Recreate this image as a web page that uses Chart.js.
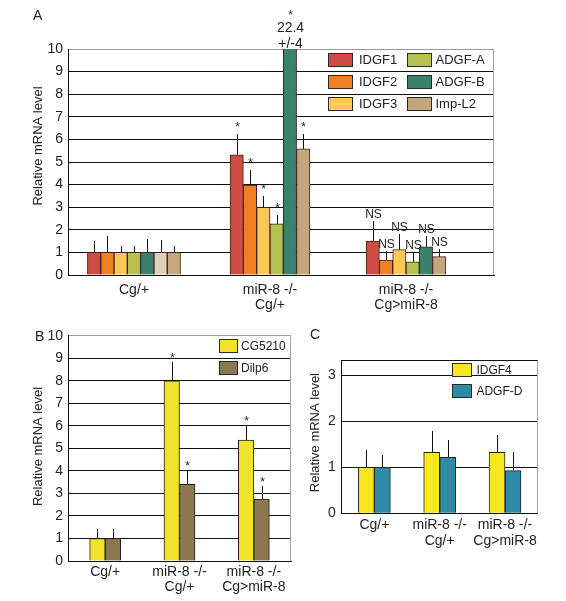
<!DOCTYPE html>
<html><head><meta charset="utf-8">
<script src="https://cdn.jsdelivr.net/npm/chart.js@4/dist/chart.umd.min.js"></script>
<style>
html,body{margin:0;padding:0;background:#fff;width:566px;height:601px;overflow:hidden;font-family:"Liberation Sans",Arial,sans-serif;}
canvas{position:absolute;}
.pl{position:absolute;font-size:14px;color:#222;line-height:14px;}
</style></head><body>
<canvas id="cA" width="566" height="318" style="left:0;top:0"></canvas>
<canvas id="cB" width="295" height="286" style="left:0;top:315px"></canvas>
<canvas id="cC" width="271" height="286" style="left:295px;top:315px"></canvas>
<div class="pl" style="left:33px;top:8px">A</div>
<div class="pl" style="left:35px;top:329px">B</div>
<div class="pl" style="left:310px;top:327px">C</div>
<script>
// ---------- Panel A data ----------
const groupsA = [["Cg/+"], ["miR-8 -/-", "Cg/+"], ["miR-8 -/-", "Cg>miR-8"]];
const idgf1 = [1.0, 5.32, 1.50];  const idgf1Err = [0.49, 0.93, 0.90]; const idgf1Sig = ["", "*", "NS"];
const idgf2 = [1.0, 3.98, 0.66];  const idgf2Err = [0.74, 0.68, 0.39]; const idgf2Sig = ["", "*", "NS"];
const idgf3 = [1.0, 2.99, 1.12];  const idgf3Err = [0.30, 0.49, 0.68]; const idgf3Sig = ["", "*", "NS"];
const adgfA = [1.0, 2.26, 0.58];  const adgfAErr = [0.27, 0.41, 0.45]; const adgfASig = ["", "*", "NS"];
const adgfB = [1.0, 22.4, 1.25];  const adgfBErr = [0.61, 4, 0.48];    const adgfBSig = ["", "*", "NS"];
const extraA = [1.0, null, null]; const extraAErr = [0.53, null, null]; const extraASig = ["", "", ""];
const impL2 = [1.0, 5.58, 0.81];  const impL2Err = [0.27, 0.67, 0.33]; const impL2Sig = ["", "*", "NS"];
const yTicksA = [0, 1, 2, 3, 4, 5, 6, 7, 8, 9, 10];

// ---------- Panel B data ----------
const groupsB = [["Cg/+"], ["miR-8 -/-", "Cg/+"], ["miR-8 -/-", "Cg>miR-8"]];
const cg5210 = [1.0, 8.0, 5.37]; const cg5210Err = [0.41, 0.85, 0.67]; const cg5210Sig = ["", "*", "*"];
const dilp6 = [1.0, 3.40, 2.75]; const dilp6Err = [0.41, 0.64, 0.58]; const dilp6Sig = ["", "*", "*"];
const yTicksB = [0, 1, 2, 3, 4, 5, 6, 7, 8, 9, 10];

// ---------- Panel C data ----------
const groupsC = [["Cg/+"], ["miR-8 -/-", "Cg/+"], ["miR-8 -/-", "Cg>miR-8"]];
const idgf4 = [1.0, 1.33, 1.33]; const idgf4Err = [0.38, 0.46, 0.37];
const adgfD = [1.0, 1.22, 0.93]; const adgfDErr = [0.27, 0.37, 0.41];
const yTicksC = [0, 1, 2, 3];

const FONT = '"Liberation Sans", Arial, sans-serif';
Chart.defaults.font.family = FONT;
Chart.defaults.color = '#222';
Chart.defaults.animation = false;

const errPlugin = {
  id: 'errbars',
  afterDatasetsDraw(chart, args, o) {
    const ctx = chart.ctx, ys = chart.scales.y, top = chart.chartArea.top;
    ctx.save();
    chart.data.datasets.forEach((ds, di) => {
      const meta = chart.getDatasetMeta(di);
      meta.data.forEach((bar, i) => {
        const v = ds.vals[i];
        if (v == null) return;
        const e = ds.err ? ds.err[i] : 0;
        const s = ds.sig ? ds.sig[i] : '';
        const x = Math.round(bar.x) + 0.5;
        ctx.fillStyle = '#222';
        ctx.textAlign = 'center';
        ctx.textBaseline = 'alphabetic';
        if (v <= ys.max) {
          const y0 = ys.getPixelForValue(v), y1 = ys.getPixelForValue(v + e);
          ctx.strokeStyle = '#111'; ctx.lineWidth = 1;
          ctx.beginPath(); ctx.moveTo(x, y0); ctx.lineTo(x, Math.round(y1)); ctx.stroke();
          if (s === '*') { ctx.font = '12px ' + FONT; ctx.fillText('*', x, y1 - o.starGap); }
          else if (s) { ctx.font = '12px ' + FONT; ctx.fillText(s, x, y1 - o.nsGap); }
        } else {
          ctx.font = '12px ' + FONT; ctx.fillText(s, x, top - 30);
          ctx.font = '14px ' + FONT;
          ctx.fillText(String(v), x, top - 17);
          ctx.fillText('+/-' + e, x, top - 1);
        }
      });
    });
    ctx.restore();
  }
};

const framePlugin = {
  id: 'frame',
  beforeDatasetsDraw(chart, args, o) {
    const ctx = chart.ctx, a = chart.chartArea;
    ctx.save(); ctx.lineWidth = 1;
    const r = Math.round(a.right) - 0.5, t = Math.round(a.top) + 0.5;
    ctx.strokeStyle = o.right;
    ctx.beginPath(); ctx.moveTo(r, t); ctx.lineTo(r, a.bottom); ctx.stroke();
    if (o.top) {
      ctx.strokeStyle = o.top;
      ctx.beginPath(); ctx.moveTo(a.left, t); ctx.lineTo(a.right, t); ctx.stroke();
    }
    ctx.restore();
  }
};

const yTitlePlugin = {
  id: 'yTitle',
  afterDraw(chart, args, o) {
    const ctx = chart.ctx;
    ctx.save();
    ctx.translate(o.x, o.y); ctx.rotate(-Math.PI / 2);
    ctx.font = o.size + 'px ' + FONT; ctx.fillStyle = '#222';
    ctx.textAlign = 'center'; ctx.textBaseline = 'middle';
    ctx.fillText(o.text, 0, 0);
    ctx.restore();
  }
};

const legendPlugin = {
  id: 'boxLegend',
  afterDraw(chart, args, o) {
    const ctx = chart.ctx;
    ctx.save();
    ctx.font = o.size + 'px ' + FONT; ctx.textBaseline = 'middle'; ctx.textAlign = 'left';
    o.order.forEach((col, ci) => col.forEach((di, ri) => {
      const ds = chart.data.datasets[di];
      const bx = Math.round(o.cols[ci]), by = Math.round(o.top + ri * o.pitch);
      ctx.fillStyle = ds.backgroundColor; ctx.fillRect(bx, by, o.boxW, o.boxH);
      ctx.strokeStyle = '#2a2a2a'; ctx.lineWidth = 1;
      ctx.strokeRect(bx + 0.5, by + 0.5, o.boxW - 1, o.boxH - 1);
      ctx.fillStyle = '#222';
      ctx.fillText(ds.label, bx + o.textDx[ci], by + o.boxH / 2 + 0.5);
    }));
    ctx.restore();
  }
};

function mkDs(label, vals, err, sig, color, border, linear) {
  return {
    label, vals, err, sig,
    data: linear ? vals.map((v, i) => ({ x: i, y: v })) : vals,
    backgroundColor: color, borderColor: border, borderWidth: 1, borderSkipped: 'start'
  };
}

function yAxis(max, ticksArr, width, pad, topColor) {
  return {
    min: 0, max: max,
    afterBuildTicks: s => { s.ticks = ticksArr.map(v => ({ value: v })); },
    ticks: { font: { size: 14 }, color: '#222', padding: pad, autoSkip: false },
    grid: { drawTicks: false, color: c => (c.tick && c.tick.value >= max) ? topColor : '#111', lineWidth: 1 },
    border: { display: true, color: '#111', width: 1 },
    afterFit: s => { s.width = width; }
  };
}

// ---------- Chart A ----------
const bA = '#3b2420';
new Chart(document.getElementById('cA'), {
  type: 'bar',
  data: {
    datasets: [
      mkDs('IDGF1', idgf1, idgf1Err, idgf1Sig, '#cf4b45', bA, true),
      mkDs('IDGF2', idgf2, idgf2Err, idgf2Sig, '#ef7f23', bA, true),
      mkDs('IDGF3', idgf3, idgf3Err, idgf3Sig, '#fcc755', bA, true),
      mkDs('ADGF-A', adgfA, adgfAErr, adgfASig, '#b6c14f', bA, true),
      mkDs('ADGF-B', adgfB, adgfBErr, adgfBSig, '#3c816b', bA, true),
      mkDs('', extraA, extraAErr, extraASig, '#dfd1b8', bA, true),
      mkDs('Imp-L2', impL2, impL2Err, impL2Sig, '#c6a77d', bA, true)
    ]
  },
  options: {
    responsive: false, devicePixelRatio: 1,
    layout: { padding: { left: 0, top: 49, right: 72, bottom: 0 } },
    datasets: { bar: { barThickness: 13.3, skipNull: true, grouped: true } },
    scales: {
      x: {
        type: 'linear', min: -0.485, max: 2.647, offset: false,
        afterBuildTicks: s => { s.ticks = groupsA.map((g, i) => ({ value: i })); },
        ticks: { callback: v => groupsA[v], font: { size: 14, lineHeight: 1.1 }, color: '#222', padding: 7, autoSkip: false, maxRotation: 0 },
        grid: { display: false, drawTicks: false },
        border: { display: true, color: '#111' },
        afterFit: s => { s.height = 43; }
      },
      y: yAxis(10, yTicksA, 68, 5, '#9a9a9a')
    },
    plugins: {
      legend: { display: false }, tooltip: { enabled: false },
      errbars: { starGap: 3, nsGap: 3 },
      frame: { right: '#a0a0a0', top: null },
      yTitle: { text: 'Relative mRNA level', x: 38, y: 146, size: 13 },
      boxLegend: { order: [[0, 1, 2], [3, 4, 6]], cols: [328, 407], textDx: [31, 28.5], top: 53, pitch: 22, boxW: 25, boxH: 14, size: 13 }
    }
  },
  plugins: [framePlugin, errPlugin, yTitlePlugin, legendPlugin]
});

// ---------- Chart B ----------
new Chart(document.getElementById('cB'), {
  type: 'bar',
  data: {
    labels: groupsB,
    datasets: [
      mkDs('CG5210', cg5210, cg5210Err, cg5210Sig, '#f2e22a', '#222', false),
      mkDs('Dilp6', dilp6, dilp6Err, dilp6Sig, '#8b7750', '#222', false)
    ]
  },
  options: {
    responsive: false, devicePixelRatio: 1,
    layout: { padding: { left: 0, top: 20.7, right: 4, bottom: 0 } },
    datasets: { bar: { barThickness: 15.5 } },
    scales: {
      x: {
        ticks: { font: { size: 14, lineHeight: 1.1 }, color: '#222', padding: 3, autoSkip: false, maxRotation: 0 },
        grid: { display: false, drawTicks: false },
        border: { display: true, color: '#111' },
        afterFit: s => { s.height = 40; }
      },
      y: yAxis(10, yTicksB, 68, 5, '#9a9a9a')
    },
    plugins: {
      legend: { display: false }, tooltip: { enabled: false },
      errbars: { starGap: 0, nsGap: 2 },
      frame: { right: '#a0a0a0', top: null },
      yTitle: { text: 'Relative mRNA level', x: 38, y: 131.5, size: 13 },
      boxLegend: { order: [[0, 1]], cols: [219], textDx: [22], top: 24, pitch: 21.7, boxW: 19, boxH: 14, size: 12 }
    }
  },
  plugins: [framePlugin, errPlugin, yTitlePlugin, legendPlugin]
});

// ---------- Chart C ----------
new Chart(document.getElementById('cC'), {
  type: 'bar',
  data: {
    labels: groupsC,
    datasets: [
      mkDs('IDGF4', idgf4, idgf4Err, null, '#f7e620', '#222', false),
      mkDs('ADGF-D', adgfD, adgfDErr, null, '#2f8aa7', '#222', false)
    ]
  },
  options: {
    responsive: false, devicePixelRatio: 1,
    layout: { padding: { left: 0, top: 45, right: 28.3, bottom: 0 } },
    datasets: { bar: { barThickness: 16 } },
    scales: {
      x: {
        ticks: { font: { size: 14, lineHeight: 1.1 }, color: '#222', padding: 4.5, autoSkip: false, maxRotation: 0 },
        grid: { display: false, drawTicks: false },
        border: { display: true, color: '#111' },
        afterFit: s => { s.height = 87.7; }
      },
      y: yAxis(3.34, yTicksC, 46.7, 6, '#111')
    },
    plugins: {
      legend: { display: false }, tooltip: { enabled: false },
      errbars: { starGap: 0, nsGap: 2 },
      frame: { right: '#a0a0a0', top: '#111' },
      yTitle: { text: 'Relative mRNA level', x: 20, y: 117.6, size: 13 },
      boxLegend: { order: [[0, 1]], cols: [157.3], textDx: [24.4], top: 47.7, pitch: 21.6, boxW: 20, boxH: 14, size: 12 }
    }
  },
  plugins: [framePlugin, errPlugin, yTitlePlugin, legendPlugin]
});
</script>
</body></html>
